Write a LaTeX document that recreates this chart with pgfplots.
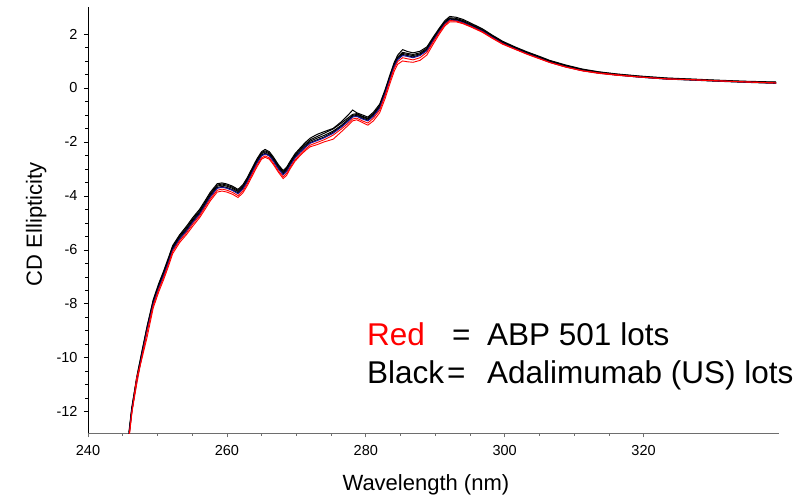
\documentclass[border=0pt]{standalone}
\usepackage{pgfplots}
\pgfplotsset{compat=1.18}
\usepackage{pgfplotstable}
\usepackage{fontspec}
\setmainfont{Liberation Sans}
\definecolor{cdblue}{RGB}{20,20,150}
\definecolor{axgray}{RGB}{110,110,110}
\pgfplotstableread{
x bl b1 b2 b3 b4 r1 r2
245.9 -12.90 -12.80 -12.85 -12.75 -12.88 -13.00 -12.95
246.3 -12.00 -11.90 -11.95 -11.85 -11.98 -12.10 -12.05
247.0 -10.90 -10.78 -10.84 -10.74 -10.88 -10.75 -11.00
247.7 -10.00 -9.88 -9.93 -9.84 -9.97 -10.10 -10.05
248.5 -9.00 -8.88 -8.94 -8.84 -8.97 -9.25 -9.05
249.4 -8.00 -7.88 -7.93 -7.84 -7.97 -8.15 -8.06
250.2 -7.40 -7.28 -7.33 -7.24 -7.37 -7.55 -7.46
250.9 -6.95 -6.82 -6.87 -6.78 -6.92 -7.10 -7.02
251.6 -6.45 -6.32 -6.37 -6.28 -6.42 -6.60 -6.52
252.2 -6.00 -5.88 -5.92 -5.84 -5.97 -6.14 -6.06
253.2 -5.60 -5.48 -5.52 -5.44 -5.57 -5.73 -5.66
254.2 -5.30 -5.17 -5.22 -5.12 -5.27 -5.43 -5.36
255.1 -4.98 -4.85 -4.90 -4.80 -4.95 -5.12 -5.04
256.1 -4.67 -4.54 -4.59 -4.49 -4.64 -4.80 -4.73
257.0 -4.30 -4.17 -4.22 -4.12 -4.27 -4.44 -4.36
257.6 -4.05 -3.92 -3.97 -3.87 -4.02 -4.19 -4.12
258.6 -3.72 -3.60 -3.64 -3.55 -3.69 -3.86 -3.79
259.3 -3.68 -3.56 -3.60 -3.52 -3.65 -3.82 -3.75
260.0 -3.72 -3.60 -3.64 -3.56 -3.69 -3.86 -3.79
260.8 -3.80 -3.68 -3.72 -3.64 -3.77 -3.94 -3.87
261.6 -3.92 -3.80 -3.84 -3.76 -3.89 -4.06 -3.99
262.3 -3.75 -3.63 -3.67 -3.59 -3.72 -3.89 -3.82
262.9 -3.50 -3.38 -3.42 -3.34 -3.47 -3.64 -3.57
263.6 -3.15 -3.03 -3.07 -2.99 -3.12 -3.29 -3.22
264.3 -2.80 -2.68 -2.72 -2.64 -2.77 -2.94 -2.87
265.0 -2.52 -2.40 -2.44 -2.36 -2.49 -2.64 -2.59
265.5 -2.45 -2.33 -2.37 -2.28 -2.42 -2.57 -2.52
266.1 -2.52 -2.40 -2.44 -2.36 -2.49 -2.64 -2.59
266.7 -2.72 -2.60 -2.64 -2.56 -2.69 -2.84 -2.79
267.4 -3.00 -2.88 -2.92 -2.84 -2.97 -3.12 -3.07
268.1 -3.22 -3.10 -3.14 -3.06 -3.19 -3.36 -3.29
268.6 -3.10 -2.98 -3.02 -2.94 -3.07 -3.24 -3.17
269.1 -2.88 -2.76 -2.80 -2.72 -2.85 -3.00 -2.95
269.8 -2.60 -2.48 -2.52 -2.44 -2.57 -2.72 -2.67
270.5 -2.40 -2.28 -2.32 -2.24 -2.37 -2.52 -2.47
271.3 -2.20 -2.08 -2.12 -2.02 -2.17 -2.32 -2.27
272.0 -2.05 -1.92 -1.97 -1.86 -2.02 -2.18 -2.12
273.0 -1.95 -1.80 -1.86 -1.72 -1.92 -2.10 -2.02
274.0 -1.85 -1.68 -1.76 -1.62 -1.82 -2.00 -1.92
275.3 -1.68 -1.52 -1.60 -1.50 -1.64 -1.90 -1.75
276.5 -1.45 -1.30 -1.38 -1.25 -1.42 -1.62 -1.52
277.4 -1.25 -1.12 -1.18 -1.02 -1.22 -1.40 -1.32
278.1 -1.08 -0.98 -1.02 -0.82 -1.05 -1.22 -1.15
278.7 -1.05 -0.95 -0.98 -0.92 -1.02 -1.18 -1.12
279.5 -1.15 -1.05 -1.08 -1.00 -1.12 -1.28 -1.22
280.3 -1.22 -1.12 -1.15 -1.08 -1.19 -1.38 -1.30
281.1 -1.05 -0.95 -0.98 -0.90 -1.02 -1.22 -1.12
282.0 -0.75 -0.65 -0.68 -0.60 -0.72 -0.92 -0.82
282.8 -0.20 -0.10 -0.14 -0.05 -0.17 -0.38 -0.27
283.5 0.35 0.45 0.42 0.50 0.38 0.18 0.28
284.1 0.80 0.90 0.86 0.95 0.83 0.62 0.73
284.6 1.05 1.15 1.12 1.22 1.08 0.88 0.98
285.3 1.20 1.32 1.28 1.42 1.24 1.00 1.12
286.0 1.17 1.28 1.24 1.35 1.20 0.97 1.08
286.8 1.12 1.24 1.20 1.30 1.15 0.95 1.04
287.8 1.20 1.30 1.26 1.36 1.23 1.02 1.12
288.8 1.38 1.48 1.44 1.52 1.41 1.22 1.32
289.7 1.75 1.84 1.80 1.88 1.78 1.62 1.70
290.6 2.10 2.18 2.15 2.22 2.12 2.00 2.06
291.4 2.38 2.46 2.43 2.50 2.40 2.30 2.35
292.1 2.52 2.60 2.57 2.65 2.55 2.45 2.50
293.0 2.50 2.58 2.55 2.62 2.53 2.45 2.48
294.0 2.42 2.50 2.47 2.54 2.45 2.38 2.40
295.3 2.28 2.35 2.32 2.38 2.30 2.24 2.26
296.8 2.10 2.16 2.13 2.19 2.12 2.06 2.08
298.2 1.88 1.94 1.91 1.96 1.90 1.84 1.86
299.7 1.65 1.71 1.68 1.73 1.67 1.62 1.64
301.5 1.45 1.50 1.48 1.52 1.47 1.43 1.44
303.2 1.27 1.32 1.30 1.34 1.29 1.25 1.26
305.0 1.10 1.15 1.13 1.17 1.12 1.08 1.09
306.5 0.95 1.00 0.98 1.02 0.97 0.94 0.95
308.8 0.78 0.83 0.81 0.85 0.80 0.77 0.78
311.2 0.64 0.68 0.66 0.70 0.65 0.63 0.64
313.5 0.55 0.59 0.57 0.60 0.56 0.54 0.56
316.1 0.48 0.51 0.49 0.52 0.48 0.47 0.49
319.5 0.40 0.43 0.41 0.44 0.40 0.40 0.41
323.3 0.33 0.36 0.34 0.37 0.33 0.34 0.33
327.0 0.30 0.32 0.30 0.33 0.29 0.30 0.31
330.5 0.26 0.28 0.26 0.29 0.25 0.26 0.27
334.5 0.22 0.24 0.22 0.25 0.21 0.23 0.22
339.1 0.18 0.21 0.19 0.22 0.17 0.19 0.18
}\cddata
\begin{document}
\begin{tikzpicture}
\path[use as bounding box] (-88pt,-65.7pt) rectangle (724pt,433.3pt);
\begin{axis}[
  at={(0,0)}, anchor=south west,
  scale only axis, width=691pt, height=426.3pt,
  xmin=240, xmax=339.5, ymin=-12.8, ymax=3,
  axis x line=bottom, axis y line=left,
  x axis line style={-, draw=axgray, line width=0.8pt},
  y axis line style={-, draw=black, line width=0.8pt},
  xtick={240,260,...,320}, ytick={-12,-10,...,2},
  minor x tick num=3, minor y tick num=3,
  tick align=outside,
  major tick length=4pt, minor tick length=2.5pt,
  every tick/.style={line width=0.6pt},
  x tick style={draw=axgray}, y tick style={draw=black},
  /pgf/number format/assume math mode=true,
  tick label style={font=\fontsize{14.5}{17}\selectfont},
  xticklabel style={yshift=-5pt},
  yticklabel style={xshift=-3pt},
  xlabel={Wavelength (nm)},
  ylabel={CD Ellipticity},
  label style={font=\fontsize{22}{26}\selectfont},
  xlabel style={at={(axis description cs:0.489,0)}, anchor=base, yshift=-57pt},
  ylabel style={at={(axis description cs:0,0.49)}, anchor=base, yshift=46pt},
  clip mode=individual,
]
\addplot[black, line width=1pt] table[x=x, y=b1] {\cddata};
\addplot[black, line width=1pt] table[x=x, y=b2] {\cddata};
\addplot[black, line width=1pt] table[x=x, y=b3] {\cddata};
\addplot[black, line width=1pt] table[x=x, y=b4] {\cddata};
\addplot[cdblue, line width=1pt] table[x=x, y=bl] {\cddata};
\addplot[red, line width=0.9pt] table[x=x, y=r1] {\cddata};
\addplot[red, line width=0.9pt] table[x=x, y=r2] {\cddata};
\end{axis}
\begin{scope}[every node/.style={anchor=base west, inner sep=0pt, font=\fontsize{31.5}{36}\selectfont}]
\node[text=red] at (279pt,88.3pt) {Red};
\node at (364pt,88.3pt) {=};
\node at (399pt,88.3pt) {ABP 501 lots};
\node at (279pt,50.3pt) {Black};
\node at (359pt,50.3pt) {=};
\node at (399pt,50.3pt) {Adalimumab (US) lots};
\end{scope}
\end{tikzpicture}
\end{document}
